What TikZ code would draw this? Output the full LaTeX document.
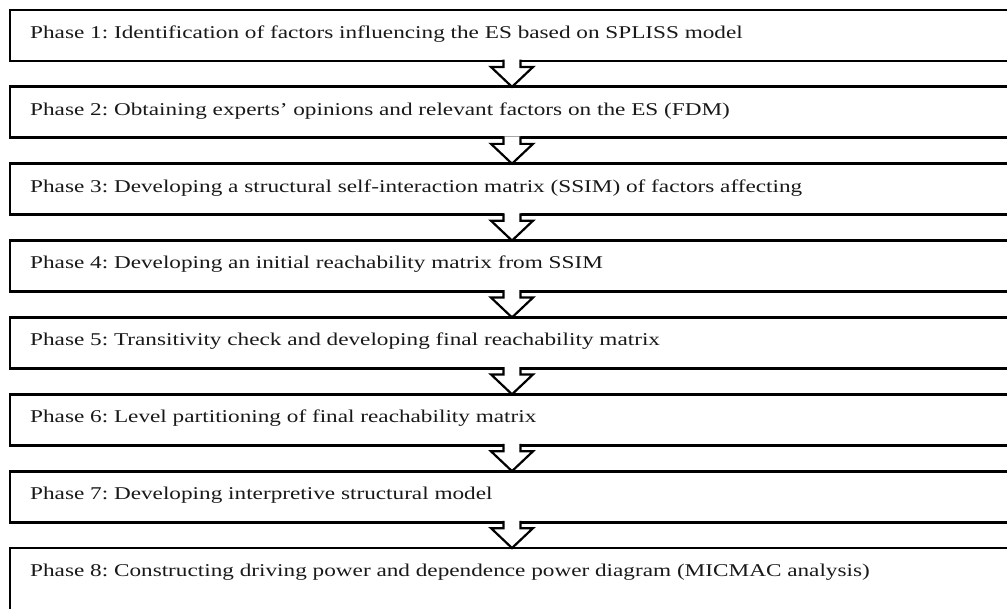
\documentclass[tikz,border=0pt]{standalone}
\usepackage{fontspec}
\usepackage{graphicx}
\setmainfont{Liberation Serif}
\usetikzlibrary{calc}
\frenchspacing
\newcommand{\widetxt}[1]{\scalebox{1.29}[1]{#1}}
\begin{document}
\begin{tikzpicture}[x=1pt,y=-1pt,
  phasebox/.style={draw=black, line width=2.8pt, fill=white, anchor=north west,
    minimum width=1004pt, minimum height=51pt, inner sep=0pt, outer sep=0pt},
  lastbox/.style={phasebox, minimum height=90pt},
  phasetext/.style={anchor=base west, inner sep=0pt, text=black!90,
    font=\fontsize{18}{21}\selectfont},
  flowarrow/.style={draw=black, line width=2.2pt, line join=miter},
  flowfill/.style={fill=white}]
\useasboundingbox (0,0) rectangle (1007,608);
\clip (0,0) rectangle (1007,608);
\fill[white] (0,0) rectangle (1007,608);
\def\gapy{76.86}
\foreach \i/\txt in {
  1/{Phase 1: Identification of factors influencing the ES based on SPLISS model},
  2/{Phase 2: Obtaining experts’ opinions and relevant factors on the ES (FDM)},
  3/{Phase 3: Developing a structural self-interaction matrix (SSIM) of factors affecting},
  4/{Phase 4: Developing an initial reachability matrix from SSIM},
  5/{Phase 5: Transitivity check and developing final reachability matrix},
  6/{Phase 6: Level partitioning of final reachability matrix},
  7/{Phase 7: Developing interpretive structural model}} {
  \node[phasebox] (p\i) at (10,{10+(\i-1)*\gapy}) {};
  \node[phasetext] (t\i) at ($(p\i.north west)+(20,28.3)$) {\widetxt{\txt}};
}
\node[lastbox] (p8) at (10,{10+7*\gapy}) {};
\node[phasetext] (t8) at ($(p8.north west)+(20,28.3)$) {\widetxt{Phase 8: Constructing driving power and dependence power diagram (MICMAC analysis)}};
\foreach \i/\j in {1/2,2/3,3/4,4/5,5/6,6/7,7/8} {
  \path[flowfill] ($(p\i.south)+(-8.5,-1.6)$) -- ($(p\i.south)+(-8.5,6)$)
    -- ($(p\i.south)+(-21,6)$) -- (p\j.north) -- ($(p\i.south)+(21,6)$)
    -- ($(p\i.south)+(8.5,6)$) -- ($(p\i.south)+(8.5,-1.6)$) -- cycle;
  \draw[flowarrow] ($(p\i.south)+(-8.5,-1.4)$) -- ($(p\i.south)+(-8.5,6)$)
    -- ($(p\i.south)+(-21,6)$) -- (p\j.north) -- ($(p\i.south)+(21,6)$)
    -- ($(p\i.south)+(8.5,6)$) -- ($(p\i.south)+(8.5,-1.4)$);
}
\end{tikzpicture}
\end{document}
